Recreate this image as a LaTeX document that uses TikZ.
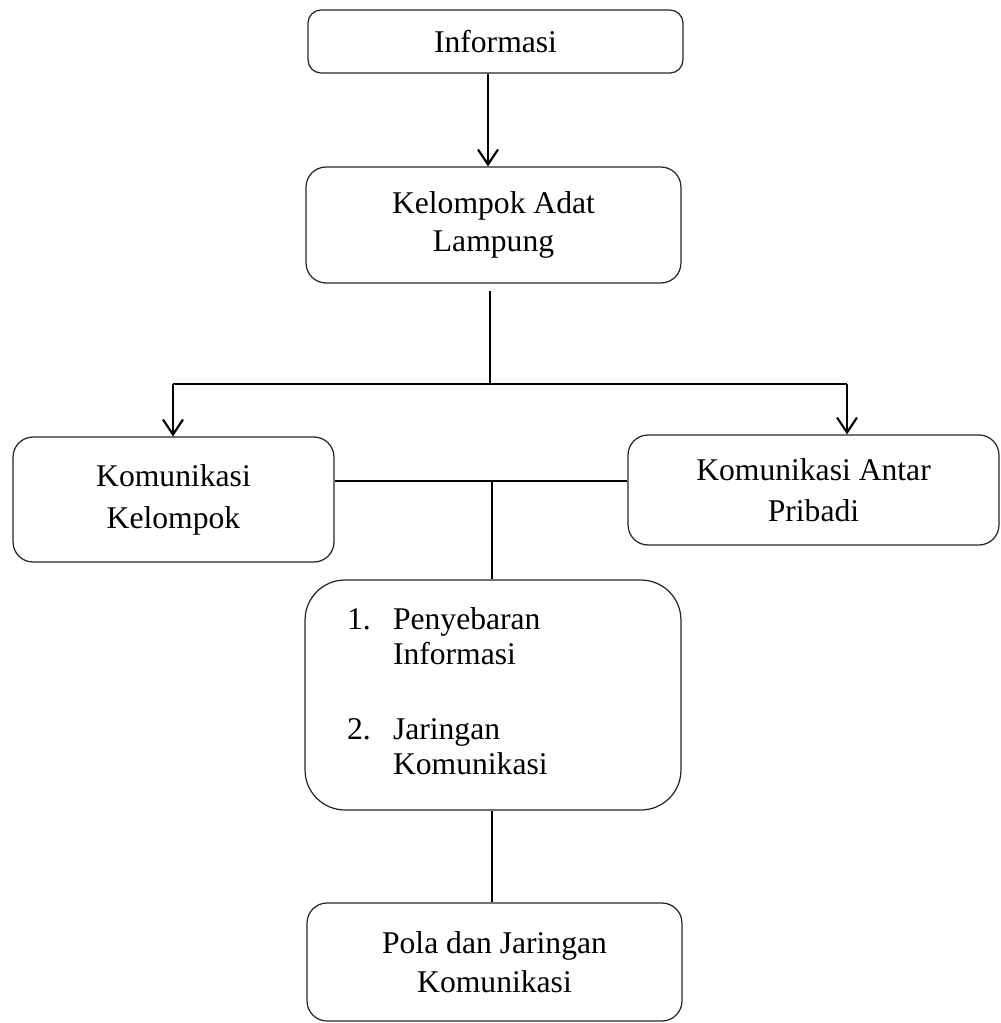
\documentclass[tikz,border=0pt]{standalone}
\usepackage{fontspec}
\setmainfont{Liberation Serif}
\usetikzlibrary{arrows.meta, positioning}

\begin{document}
\begin{tikzpicture}[
    x=0.02cm, y=-0.02cm,
    box/.style={rectangle, draw=black!85, line width=0.7pt, rounded corners=0.4cm, align=center, minimum width=7.5cm, font=\fontsize{18}{22}\selectfont},
    arrow/.style={line width=1.2pt, -{Straight Barb[length=0.3cm, width=0.4cm]}},
    line/.style={line width=1pt}
]
\useasboundingbox (0,0) rectangle (1000,1023);

\node[box, rounded corners=0.26cm, minimum height=1.26cm] (info) at (495.5,41.5) {Informasi};
\node[box, minimum height=2.32cm] (adat) at (493.5,225) {Kelompok Adat\\Lampung};
\node[box, minimum width=6.42cm, minimum height=2.5cm, font=\fontsize{18}{24}\selectfont] (kelompok) at (173.5,499.5) {Komunikasi\\Kelompok};
\node[box, minimum width=7.42cm, minimum height=2.2cm, font=\fontsize{18}{23}\selectfont] (antar) at (813.5,490) {Komunikasi Antar\\Pribadi};
\node[box, rounded corners=0.8cm, minimum height=4.6cm, inner xsep=0.84cm, text width=5.84cm, align=left, font=\fontsize{18}{20}\selectfont] (daftar) at (493,695) {\begin{tabular}{@{}p{0.92cm}@{}l@{}}1. & Penyebaran\\ & Informasi\\[0.8cm] 2. & Jaringan\\ & Komunikasi\end{tabular}};
\node[box, minimum height=2.36cm] (pola) at (494.5,962) {Pola dan Jaringan\\Komunikasi};

\coordinate (cabang) at (490,384);
\coordinate (kiri) at (173,384);
\coordinate (kanan) at (847,384);
\coordinate (tengah) at (492,481);

\draw[arrow] ([xshift=-0.15cm]info.south) -- ([xshift=-0.15cm]info.south |- adat.north);
\draw[line, shorten <=0.14cm] (adat.south -| cabang) -- (cabang);
\draw[line] (kiri) -- (kanan);
\draw[arrow] (kiri) -- (kiri |- kelompok.north);
\draw[arrow] (kanan) -- (kanan |- antar.north);
\draw[line] (kelompok.east |- tengah) -- (antar.west |- tengah);
\draw[line] (tengah) -- (tengah |- daftar.north);
\draw[line] (daftar.south -| tengah) -- (pola.north -| tengah);

\end{tikzpicture}
\end{document}
